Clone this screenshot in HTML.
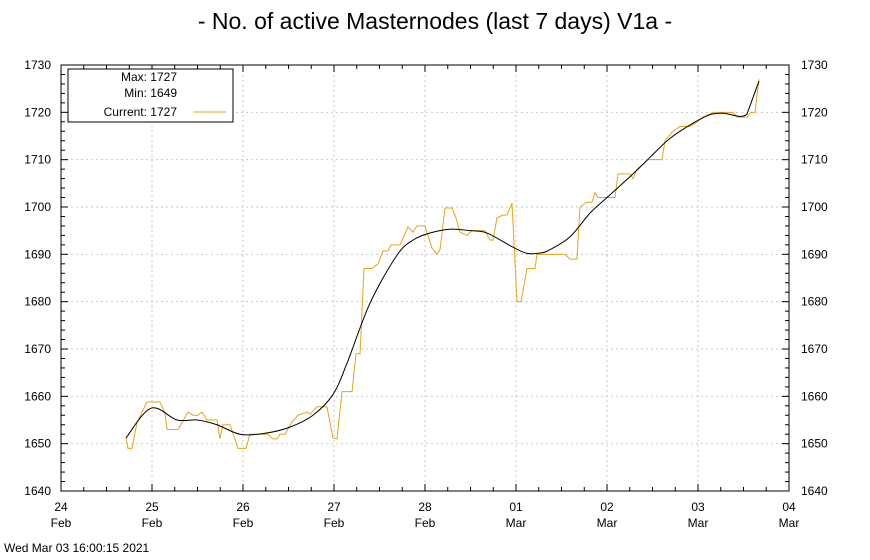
<!DOCTYPE html>
<html><head><meta charset="utf-8"><style>
html,body{margin:0;padding:0;background:#fff;}
svg{display:block;font-family:"Liberation Sans",sans-serif;}
</style></head><body>
<svg id="chart" width="870" height="560" viewBox="0 0 870 560">
<text x="435" y="29" text-anchor="middle" font-size="23" fill="#000">- No. of active Masternodes (last 7 days) V1a -</text>
<g id="grid"></g>
<g id="axes"></g>
<g id="series"></g>
<g>
<rect x="68" y="69" width="165" height="53" fill="#fff" stroke="#000" stroke-width="1"/>
<text x="177" y="81" text-anchor="end" font-size="12">Max: 1727</text>
<text x="177" y="97" text-anchor="end" font-size="12">Min: 1649</text>
<text x="177" y="116" text-anchor="end" font-size="12">Current: 1727</text>
<line x1="193" y1="112" x2="226" y2="112" stroke="#e8a317" stroke-width="1"/>
</g>
<text x="4" y="552" font-size="12">Wed Mar 03 16:00:15 2021</text>
</svg>
<script>
const yTicks=[1640,1650,1660,1670,1680,1690,1700,1710,1720,1730];
const xDays=["24","25","26","27","28","01","02","03","04"];
const xMonths=["Feb","Feb","Feb","Feb","Feb","Mar","Mar","Mar","Mar"];
const actTimes=[0.714,0.736,0.780,0.835,0.945,1.088,1.143,1.165,1.286,1.396,1.451,1.505,1.549,1.604,1.714,1.747,1.780,1.857,1.945,2.033,2.077,2.275,2.330,2.374,2.407,2.462,2.538,2.604,2.703,2.736,2.813,2.923,2.989,3.033,3.088,3.198,3.242,3.286,3.330,3.418,3.484,3.538,3.593,3.626,3.725,3.813,3.868,3.912,4.0,4.077,4.132,4.165,4.220,4.297,4.341,4.385,4.462,4.516,4.659,4.714,4.747,4.791,4.857,4.901,4.956,5.011,5.055,5.121,5.209,5.231,5.538,5.593,5.670,5.703,5.780,5.835,5.868,5.901,6.088,6.121,6.253,6.286,6.330,6.396,6.451,6.604,6.637,6.714,6.802,6.912,6.989,7.055,7.165,7.385,7.429,7.538,7.582,7.626,7.670];
const actValues=[1651.2,1649,1649,1654.4,1658.8,1658.8,1656.5,1653,1653,1656.7,1656,1656,1656.7,1655,1655,1651,1654,1654,1649,1649,1652,1652,1651,1651,1652,1652,1654.6,1656,1656.7,1656.2,1657.8,1657.8,1651.2,1651,1661,1661,1669,1669,1687,1687,1688,1690.7,1690.7,1692,1692,1695.8,1694.7,1696,1696,1691.3,1690,1691,1699.8,1699.8,1697.7,1694.7,1694,1695,1695,1693,1693,1697.7,1698.3,1698.3,1700.8,1680,1680,1687,1687,1690,1690,1689,1689,1700,1701,1701,1703,1702,1702,1707,1707,1706,1708,1709,1710,1710,1714,1715.8,1717,1717,1718,1719,1720,1720,1719,1719,1720,1720,1727];
const trendTimes=[0.714,0.989,1.275,1.495,1.714,1.967,2.242,2.516,2.769,2.989,3.143,3.396,3.692,3.868,4.055,4.275,4.495,4.681,4.967,5.121,5.275,5.374,5.593,5.813,6.0,6.286,6.473,6.692,6.945,7.132,7.275,7.538,7.670];
const trendValues=[1651.2,1657.5,1655,1655,1654,1652,1652.2,1653.5,1656,1660.4,1667,1679.7,1689.8,1693,1694.5,1695.3,1695,1694.5,1691.5,1690.2,1690.3,1691,1693.7,1698.7,1702,1707,1710.5,1714.5,1717.7,1719.5,1719.8,1719.6,1726.6];

const L=61,R=789,T=65,B=491,NS="http://www.w3.org/2000/svg";
const X=d=>L+(R-L)*d/8;
const Y=v=>B-(B-T)*(v-1640)/90;
function mk(tag,attrs,parent,txt){const e=document.createElementNS(NS,tag);for(const k in attrs)e.setAttribute(k,attrs[k]);if(txt!==undefined)e.textContent=txt;parent.appendChild(e);return e;}
const grid=document.getElementById('grid'),axes=document.getElementById('axes'),ser=document.getElementById('series');
yTicks.forEach(v=>{
  const y=Y(v);
  if(v>1640&&v<1730){const g=mk('line',{x1:L,x2:R,y1:y,y2:y,stroke:'#c8c8c8','stroke-dasharray':'2,3'},grid);
  
  }
  const t1=mk('text',{x:L-10,y:y+4,'text-anchor':'end','font-size':12},axes,String(v));
  
  
  const t2=mk('text',{x:R+12,y:y+4,'font-size':12},axes,String(v));
  
  
  mk('line',{x1:L,x2:L+7,y1:y,y2:y,stroke:'#000'},axes);
  mk('line',{x1:R,x2:R-7,y1:y,y2:y,stroke:'#000'},axes);
});
for(let v=1642;v<1730;v+=2){if(v%10){const y=Y(v);mk('line',{x1:L,x2:L+4,y1:y,y2:y,stroke:'#000'},axes);mk('line',{x1:R,x2:R-4,y1:y,y2:y,stroke:'#000'},axes);}}
xDays.forEach((d,i)=>{
  const x=X(i);
  if(i>0&&i<8){const g=mk('line',{x1:x,x2:x,y1:T,y2:B,stroke:'#c8c8c8','stroke-dasharray':'2,3'},grid);
  
  }
  const t=mk('text',{x:x,y:511,'text-anchor':'middle','font-size':12},axes,d);
  
  
  const m=mk('text',{x:x,y:527,'text-anchor':'middle','font-size':12},axes,xMonths[i]);
  
  
});
for(let q=0;q<=32;q++){const x=X(q/4);const len=q%4?4:7;mk('line',{x1:x,x2:x,y1:B,y2:B-len,stroke:'#000'},axes);mk('line',{x1:x,x2:x,y1:T,y2:T+len,stroke:'#000'},axes);}
const fr=mk('rect',{x:L,y:T,width:R-L,height:B-T,fill:'none',stroke:'#000'},axes);


const a=mk('polyline',{points:actTimes.map((t,i)=>X(t)+','+Y(actValues[i])).join(' '),fill:'none',stroke:'#e8a317','stroke-width':1},ser);


const P=trendTimes.map((t,i)=>[X(t),Y(trendValues[i])]);
let d='M'+P[0][0]+','+P[0][1];
for(let i=0;i<P.length-1;i++){
  const p0=P[Math.max(0,i-1)],p1=P[i],p2=P[i+1],p3=P[Math.min(P.length-1,i+2)];
  if(i===P.length-2){d+=' L'+p2[0]+','+p2[1];continue;}
  const c1=[p1[0]+(p2[0]-p0[0])/6,p1[1]+(p2[1]-p0[1])/6];
  const c2=[p2[0]-(p3[0]-p1[0])/6,p2[1]-(p3[1]-p1[1])/6];
  d+=' C'+c1[0]+','+c1[1]+' '+c2[0]+','+c2[1]+' '+p2[0]+','+p2[1];
}
const tr=mk('path',{d:d,fill:'none',stroke:'#000','stroke-width':1},ser);


</script>
</body></html>
